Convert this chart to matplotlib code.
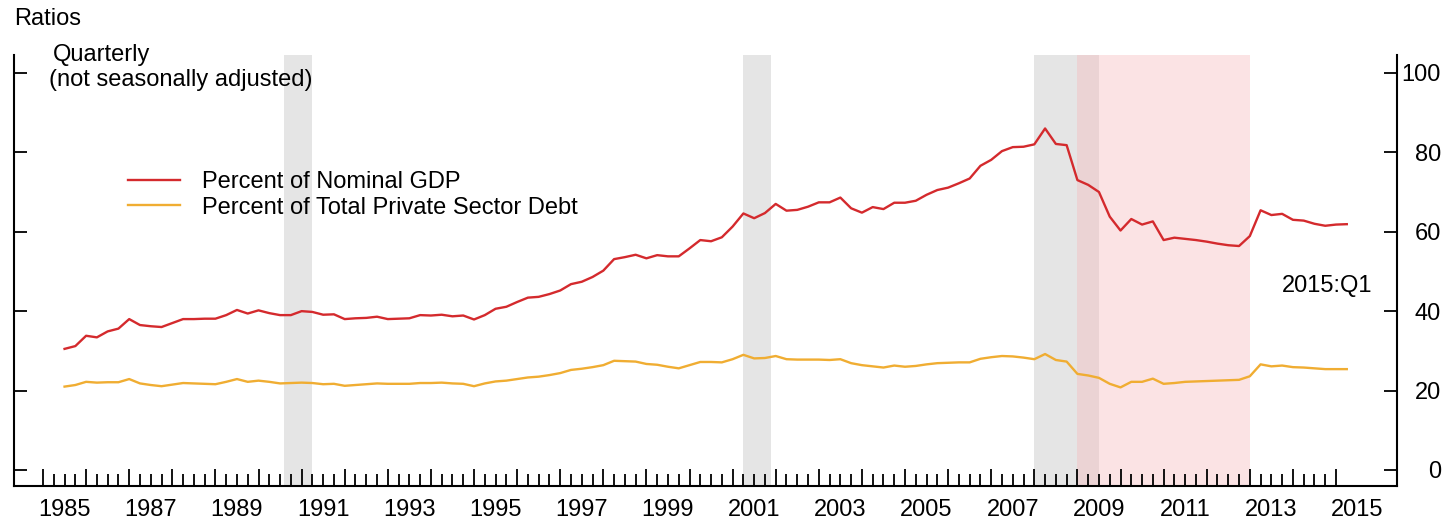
import matplotlib.pyplot as plt
import numpy as np

# quarterly observations, plotted from 1985 to 2015:Q1
quarters = np.arange(1985.5, 2015.26, 0.25)

pct_nominal_gdp = [
    30.5, 31.2, 33.8, 33.4, 34.9, 35.6, 38.0, 36.5, 36.2, 36.0,
    37.0, 38.0, 38.0, 38.1, 38.1, 39.0, 40.3, 39.4, 40.2, 39.5,
    39.0, 39.0, 40.0, 39.8, 39.1, 39.2, 38.0, 38.2, 38.3, 38.6,
    38.0, 38.1, 38.2, 39.0, 38.9, 39.1, 38.7, 38.9, 37.9, 39.0,
    40.6, 41.1, 42.3, 43.4, 43.6, 44.3, 45.2, 46.8, 47.4, 48.6,
    50.2, 53.1, 53.6, 54.2, 53.3, 54.1, 53.8, 53.8, 55.8, 57.9,
    57.6, 58.6, 61.3, 64.6, 63.4, 64.7, 67.0, 65.3, 65.5, 66.3,
    67.4, 67.4, 68.6, 65.9, 64.8, 66.2, 65.7, 67.3, 67.3, 67.8,
    69.3, 70.5, 71.1, 72.2, 73.4, 76.6, 78.1, 80.3, 81.3, 81.4,
    82.0, 86.0, 82.1, 81.8, 73.0, 71.8, 70.0, 63.8, 60.3, 63.2,
    61.8, 62.6, 57.9, 58.5, 58.2, 57.9, 57.5, 57.0, 56.6, 56.4,
    58.9, 65.4, 64.2, 64.5, 63.0, 62.8, 62.0, 61.5, 61.8, 61.9,
]

pct_private_debt = [
    21.0, 21.4, 22.2, 22.0, 22.1, 22.1, 22.9, 21.8, 21.4, 21.1,
    21.5, 21.9, 21.8, 21.7, 21.6, 22.2, 22.9, 22.2, 22.5, 22.2,
    21.8, 21.9, 22.0, 21.9, 21.6, 21.7, 21.2, 21.4, 21.6, 21.8,
    21.7, 21.7, 21.7, 21.9, 21.9, 22.0, 21.8, 21.7, 21.1, 21.8,
    22.3, 22.5, 22.9, 23.3, 23.5, 23.9, 24.4, 25.2, 25.5, 25.9,
    26.4, 27.5, 27.4, 27.3, 26.7, 26.5, 26.0, 25.6, 26.4, 27.2,
    27.2, 27.1, 27.9, 29.0, 28.1, 28.2, 28.7, 27.9, 27.8, 27.8,
    27.8, 27.7, 27.9, 26.9, 26.4, 26.1, 25.8, 26.3, 26.0, 26.2,
    26.6, 26.9, 27.0, 27.1, 27.1, 28.0, 28.4, 28.7, 28.6, 28.3,
    27.9, 29.2, 27.7, 27.3, 24.2, 23.8, 23.2, 21.7, 20.8, 22.2,
    22.2, 23.0, 21.7, 21.9, 22.2, 22.3, 22.4, 22.5, 22.6, 22.7,
    23.6, 26.6, 26.1, 26.3, 25.9, 25.8, 25.6, 25.4, 25.4, 25.4,
]

recessions = [(1990.6, 1991.25), (2001.25, 2001.9), (2008.0, 2009.5)]
pink_period = (2009.0, 2013.0)

year_ticks = np.arange(1985, 2016)
label_years = np.arange(1985, 2016, 2)
y_ticks = [0, 20, 40, 60, 80, 100]

W, H = 1451, 527
plt.rcParams['font.family'] = ['Liberation Sans', 'DejaVu Sans']
plt.rcParams['font.size'] = 17

fig = plt.figure(figsize=(W / 100, H / 100), dpi=100)
ax = fig.add_axes([14 / W, 1 - 486 / H, (1397 - 14) / W, (486 - 55) / H])

for start, end in recessions:
    ax.axvspan(start, end, color='#e5e5e5', lw=0, zorder=0)
ax.axvspan(*pink_period, color='#f7b6ba', alpha=0.38, lw=0, zorder=1)

ax.plot(quarters, pct_nominal_gdp, color='#d42a2d', lw=1.7, zorder=3,
        label='Percent of Nominal GDP')
ax.plot(quarters, pct_private_debt, color='#f0ad32', lw=1.7, zorder=3,
        label='Percent of Total Private Sector Debt')

ax.set_xlim(1984.327, 2016.415)
ax.set_ylim(-4.03, 104.5)

ax.spines['top'].set_visible(False)
for side in ['left', 'right', 'bottom']:
    ax.spines[side].set_linewidth(1.5)

ax.set_xticks(year_ticks)
ax.set_xticks(np.arange(1985, 2015.01, 0.25), minor=True)
ax.tick_params(axis='x', which='major', direction='in', length=12.5, width=1.3,
               labelbottom=False)
ax.tick_params(axis='x', which='minor', direction='in', length=8.5, width=1.3)

for yr in label_years:
    ax.annotate(str(yr), xy=(yr + 0.5, 0), xycoords=ax.get_xaxis_transform(),
                xytext=(0, -21.6), textcoords='offset points',
                ha='center', va='baseline')

ax.set_yticks(y_ticks)
ax.tick_params(axis='y', direction='in', length=9.5, width=1.3, left=True,
               right=True, labelleft=False, labelright=True, pad=31.7)
plt.setp(ax.get_yticklabels(), ha='right')

ax.legend(loc='upper left', bbox_to_anchor=(128 / W, 1 - 171 / H),
          bbox_transform=fig.transFigure, frameon=False, borderpad=0,
          borderaxespad=0, handlelength=2.2, handletextpad=0.95,
          labelspacing=0.15)

fig.text(14 / W, 1 - 25 / H, 'Ratios', va='baseline')
fig.text(53 / W, 1 - 61 / H, 'Quarterly', va='baseline')
fig.text(49 / W, 1 - 86 / H, '(not seasonally adjusted)', va='baseline')
fig.text(1282 / W, 1 - 292 / H, '2015:Q1', va='baseline')

fig.savefig('out.png', dpi=100)
